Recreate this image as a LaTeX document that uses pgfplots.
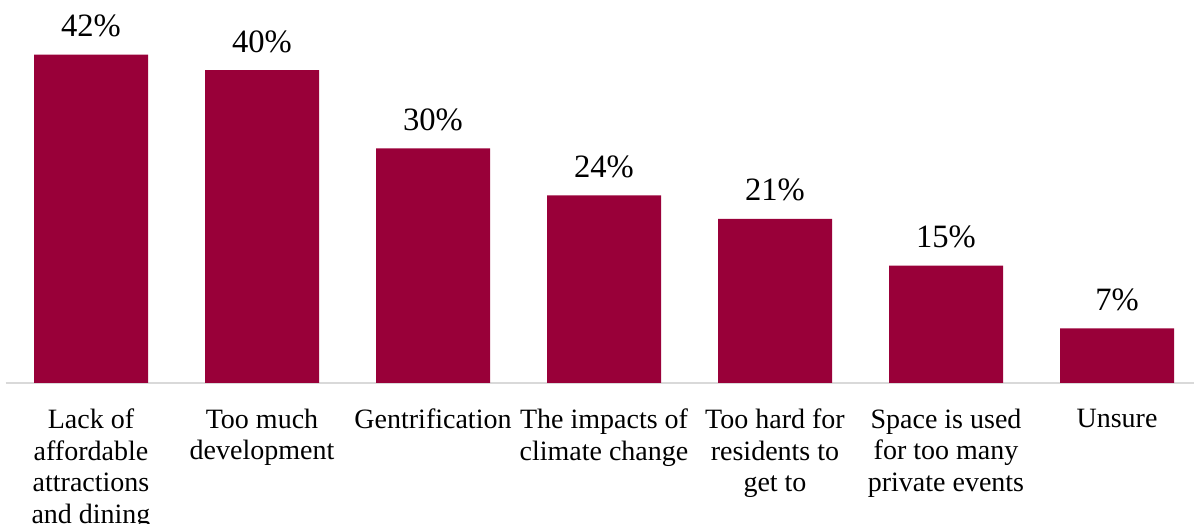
\documentclass[border=0pt]{standalone}
\usepackage{pgfplots}
\pgfplotsset{compat=1.18}
\usepackage{fontspec}
\setmainfont{Liberation Serif}
\definecolor{barred}{RGB}{153,0,57}
\definecolor{basegray}{RGB}{217,217,217}
\begin{document}
\begin{tikzpicture}
\useasboundingbox (0,0) rectangle (597pt,262pt);
\begin{axis}[
  at={(2.75pt,70.5pt)}, anchor=south west,
  scale only axis,
  width=598.5pt, height=175.95pt,
  xmin=-0.5, xmax=6.5, ymin=0, ymax=45,
  enlargelimits=false, clip=false,
  hide y axis,
  axis x line*=bottom,
  x axis line style={draw=basegray, line width=0.75pt, -},
  xtick={0,1,2,3,4,5,6},
  xtick style={draw=none},
  xticklabels={
    {Lack of\\affordable\\attractions\\and dining},
    {Too much\\development},
    {Gentrification},
    {The impacts of\\climate change},
    {Too hard for\\residents to\\get to},
    {Space is used\\for too many\\private events},
    {Unsure}},
  xticklabel style={align=center, anchor=north, inner sep=0pt, yshift=-8.5pt,
    font={\fontsize{14}{15.8}\selectfont}},
  ybar, bar width=57pt,
  nodes near coords={\pgfmathprintnumber[assume math mode=true]{\pgfplotspointmeta}\%},
  every node near coord/.append style={anchor=base, inner sep=0pt, yshift=9pt,
    font={\fontsize{16.3}{18}\selectfont}, text=black},
]
\addplot[fill=barred, draw=none] coordinates {
  (0,42) (1,40) (2,30) (3,24) (4,21) (5,15) (6,7)};
\end{axis}
\end{tikzpicture}
\end{document}
